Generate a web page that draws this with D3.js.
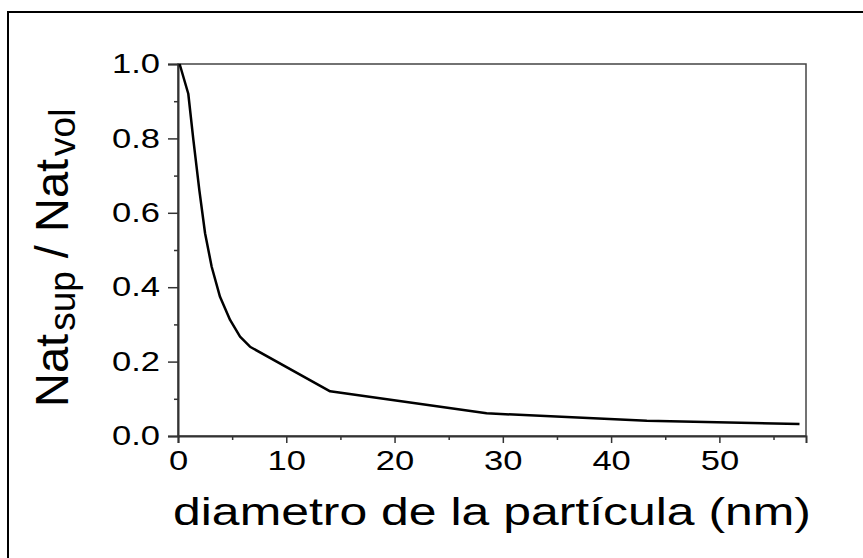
<!DOCTYPE html>
<html>
<head>
<meta charset="utf-8">
<script src="https://cdn.jsdelivr.net/npm/d3@7"></script>
<style>
  body { margin: 0; background: #fff; }
  text { font-family: "Liberation Sans", Arial, sans-serif; fill: #000; }
</style>
</head>
<body>
<script>
//particle diameter (nm) and surface/volume atom ratio
var diam = [0.15, 0.95, 1.42, 1.97, 2.5, 3.11, 3.88, 4.81, 5.73, 6.65, 14.05, 28.5, 43.3, 57.4];
var ratio = [1.0, 0.92, 0.796, 0.661, 0.545, 0.455, 0.374, 0.312, 0.267, 0.24, 0.12, 0.061, 0.041, 0.032];

var xTicks = [0, 10, 20, 30, 40, 50],
    xMinor = [5, 15, 25, 35, 45, 55],
    yTicks = [0, 0.2, 0.4, 0.6, 0.8, 1.0],
    yMinor = [0.1, 0.3, 0.5, 0.7, 0.9];

var width = 863, height = 558;
var stretch = 1.28; //text in the figure is widened horizontally

var svg = d3.select("body").append("svg")
    .attr("width", width)
    .attr("height", height);

//outer frame (runs off the right and bottom edges)
svg.append("rect")
    .attr("x", 8).attr("y", 12)
    .attr("width", 900).attr("height", 600)
    .attr("fill", "none")
    .attr("stroke", "#000")
    .attr("stroke-width", 2);

//plot box edges ("top" is taken by window.top, so use other names)
var pLeft = 178, pTop = 64, pRight = 806, pBottom = 436;

var x = d3.scaleLinear().domain([0, 58]).range([pLeft, pRight]);
var y = d3.scaleLinear().domain([0, 1]).range([pBottom, pTop]);

//plot box
svg.append("rect")
    .attr("x", pLeft).attr("y", pTop)
    .attr("width", pRight - pLeft).attr("height", pBottom - pTop)
    .attr("fill", "none")
    .attr("stroke", "#444")
    .attr("stroke-width", 1.5);

//minor ticks
svg.append("g")
    .attr("transform", "translate(0," + pBottom + ")")
    .call(d3.axisBottom(x).tickValues(xMinor).tickSize(4).tickFormat(""))
    .call(function(g) { g.select(".domain").remove(); })
    .selectAll("line").attr("stroke", "#333").attr("stroke-width", 1.5);
svg.append("g")
    .attr("transform", "translate(" + pLeft + ",0)")
    .call(d3.axisLeft(y).tickValues(yMinor).tickSize(4).tickFormat(""))
    .call(function(g) { g.select(".domain").remove(); })
    .selectAll("line").attr("stroke", "#333").attr("stroke-width", 1.5);

//major x axis
var xAxis = svg.append("g")
    .attr("transform", "translate(0," + pBottom + ")")
    .call(d3.axisBottom(x).tickValues(xTicks).tickSize(7).tickPadding(8).tickFormat(d3.format("d")));
xAxis.select(".domain").attr("stroke", "#333").attr("stroke-width", 2);
xAxis.selectAll("line").attr("stroke", "#333").attr("stroke-width", 1.5);
xAxis.selectAll("text")
    .attr("font-size", 27)
    .attr("font-family", "Liberation Sans, Arial, sans-serif")
    .attr("fill", "#000")
    .attr("dy", "0.72em")
    .attr("transform", "scale(" + stretch + ",1)");

//major y axis
var yAxis = svg.append("g")
    .attr("transform", "translate(" + pLeft + ",0)")
    .call(d3.axisLeft(y).tickValues(yTicks).tickSize(10).tickPadding(8).tickFormat(d3.format(".1f")));
yAxis.select(".domain").attr("stroke", "#333").attr("stroke-width", 2);
yAxis.selectAll("line").attr("stroke", "#333").attr("stroke-width", 1.5);
yAxis.selectAll("text")
    .attr("font-size", 27)
    .attr("font-family", "Liberation Sans, Arial, sans-serif")
    .attr("fill", "#000")
    .attr("x", -18 / stretch)
    .attr("transform", "scale(" + stretch + ",1)");

//the curve
var line = d3.line()
    .x(function(d, i) { return x(diam[i]); })
    .y(function(d) { return y(d); });

svg.append("path")
    .datum(ratio)
    .attr("d", line)
    .attr("fill", "none")
    .attr("stroke", "#000")
    .attr("stroke-width", 2.5)
    .attr("stroke-linejoin", "round");

//x title
svg.append("text")
    .attr("transform", "translate(" + ((pLeft + pRight) / 2) + ",525) scale(" + stretch + ",1)")
    .attr("text-anchor", "middle")
    .attr("font-size", 39)
    .text("diametro de la partícula (nm)");

//y title with subscripts
var yTitle = svg.append("text")
    .attr("transform", "translate(68,407) rotate(-90)")
    .attr("font-size", 47);
yTitle.append("tspan").text("Nat");
yTitle.append("tspan").attr("font-size", 37).attr("dx", 3).attr("dy", 7).text("sup");
yTitle.append("tspan").attr("dy", -7).text(" / Nat");
yTitle.append("tspan").attr("font-size", 37).attr("dx", 3).attr("dy", 7).text("vol");
</script>
</body>
</html>
